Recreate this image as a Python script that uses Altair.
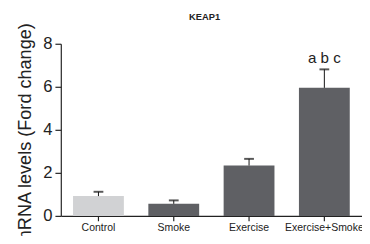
import altair as alt
import pandas as pd

groups = ["Control", "Smoke", "Exercise", "Exercise+Smoke"]
means = [0.92, 0.56, 2.34, 5.95]
errs = [0.20, 0.16, 0.31, 0.86]
letters = ["", "", "", "a b c"]
colors = ["#d1d2d4", "#5f6064", "#5f6064", "#5f6064"]

df = pd.DataFrame({
    "group": groups,
    "mean": means,
    "upper": [m + e for m, e in zip(means, errs)],
    "label": letters,
    "color": colors,
})

x = alt.X("group:N", sort=groups, title=None,
          scale=alt.Scale(paddingInner=0.325, paddingOuter=0.1625),
          axis=alt.Axis(labelAngle=0, labelFontSize=10.7, labelColor="#222",
                        labelFont="Liberation Sans", tickSize=5, labelPadding=2,
                        domainColor="#222", tickColor="#222", domainWidth=1.2, tickWidth=1.2))

bars = alt.Chart(df).mark_bar().encode(
    x=x,
    y=alt.Y("mean:Q", title="mRNA levels (Ford change)",
            scale=alt.Scale(domain=[0, 8]),
            axis=alt.Axis(values=[0, 2, 4, 6, 8], grid=False, labelFontSize=17,
                          labelFont="Liberation Sans", labelColor="#222",
                          titleFont="Liberation Sans", titleFontSize=18.5,
                          titleFontWeight="normal", titleColor="#222",
                          titlePadding=9, titleY=92, tickSize=6, labelPadding=3,
                          domainColor="#222", tickColor="#222", domainWidth=1.2, tickWidth=1.2)),
    color=alt.Color("color:N", scale=None),
)

rule = alt.Chart(df).mark_rule(color="#111", strokeWidth=1).encode(
    x=alt.X("group:N", sort=groups), y="mean:Q", y2="upper:Q")

cap = alt.Chart(df).mark_tick(color="#111", thickness=2, size=10).encode(
    x=alt.X("group:N", sort=groups), y="upper:Q")

txt = alt.Chart(df).mark_text(fontSize=15.5, font="Liberation Sans", color="#222",
                              baseline="alphabetic", dy=-7).encode(
    x=alt.X("group:N", sort=groups), y="upper:Q", text="label:N")

chart = alt.layer(bars, rule, cap, txt).properties(
    width=308, height=176,
    autosize=alt.AutoSizeParams(type="none"),
    padding={"left": 54, "top": 34, "right": 0, "bottom": 18},
    title=alt.TitleParams("KEAP1", fontSize=9.5, fontWeight="bold",
                          font="Liberation Sans", color="#222", offset=1, dx=-7),
).configure_view(stroke=None)

chart.save("out.html", embed_options={"renderer": "svg", "actions": False})
